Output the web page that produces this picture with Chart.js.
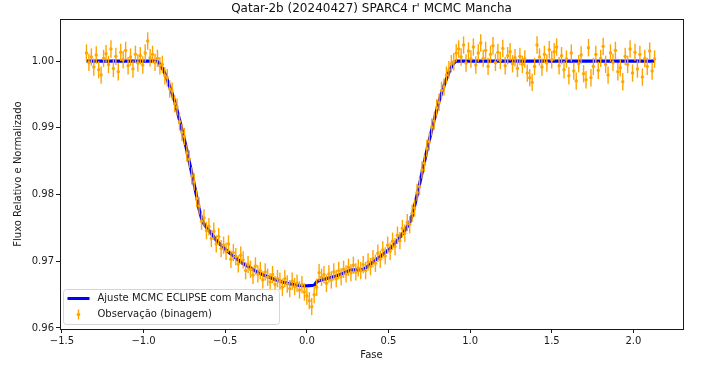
<!DOCTYPE html>
<html>
<head>
<meta charset="utf-8">
<script src="https://cdn.jsdelivr.net/npm/chart.js@4"></script>
<style>
  body { margin: 0; background: #fff; }
</style>
</head>
<body>
<canvas id="lc" width="702" height="369"></canvas>
<script>
// binned observations (phase, relative flux)
const phase = [
  -1.350,-1.335,-1.320,-1.305,-1.290,-1.275,-1.260,-1.245,-1.230,-1.215,-1.200,-1.185,-1.170,-1.155,-1.140,
  -1.125,-1.110,-1.095,-1.080,-1.065,-1.050,-1.035,-1.020,-1.005,-0.990,-0.975,-0.960,-0.945,-0.930,
  -0.915,-0.900,-0.885,-0.870,-0.855,-0.840,-0.825,-0.810,-0.795,-0.780,-0.765,-0.750,-0.735,-0.720,-0.705,
  -0.690,-0.675,-0.660,-0.645,-0.630,-0.615,-0.600,-0.585,-0.570,-0.555,-0.540,-0.525,-0.510,-0.495,-0.480,
  -0.465,-0.450,-0.435,-0.420,-0.405,-0.390,-0.375,-0.360,-0.345,-0.330,-0.315,-0.300,-0.285,-0.270,-0.255,
  -0.240,-0.225,-0.210,-0.195,-0.180,-0.165,-0.150,-0.135,-0.120,-0.105,-0.090,-0.075,-0.060,-0.045,-0.030,
  -0.015,0.000,0.015,0.030,0.045,0.060,0.075,0.090,0.105,0.120,0.135,0.150,0.165,0.180,0.195,
  0.210,0.225,0.240,0.255,0.270,0.285,0.300,0.315,0.330,0.345,0.360,0.375,0.390,0.405,0.420,
  0.435,0.450,0.465,0.480,0.495,0.510,0.525,0.540,0.555,0.570,0.585,0.600,0.615,0.630,0.645,
  0.660,0.675,0.690,0.705,0.720,0.735,0.750,0.765,0.780,0.795,0.810,0.825,0.840,0.855,0.870,
  0.885,0.900,0.915,
  0.930,0.945,0.960,0.975,0.990,1.005,1.020,1.035,1.050,1.065,1.080,1.095,1.110,1.125,1.140,
  1.155,1.170,1.185,1.200,1.215,1.230,1.245,1.260,1.275,1.290,1.305,1.320,1.335,1.350,1.365,
  1.380,1.395,1.410,1.425,1.440,1.455,1.470,1.485,1.500,1.515,1.530,1.545,1.560,1.575,1.590,
  1.605,1.620,1.635,1.650,1.665,1.680,1.695,1.710,1.725,1.740,1.755,1.770,1.785,1.800,1.815,
  1.830,1.845,1.860,1.875,1.890,1.905,1.920,1.935,1.950,1.965,1.980,1.995,2.010,2.025,2.040,
  2.055,2.070,2.085,2.100,2.115,2.130
];
const flux = [
  1.0012,0.9998,1.0006,0.9991,1.0009,0.9987,0.9979,1.0004,1.0011,0.9995,1.0018,0.9989,1.0007,0.9984,1.0013,
  1.0002,1.0016,0.9993,1.0006,0.9988,1.0010,0.9997,1.0008,0.9994,1.0012,1.0030,1.0005,1.0010,0.9998,
  1.0004,0.9993,0.9995,0.9978,0.9975,0.9958,0.9955,0.9936,0.9931,0.9909,0.9893,0.9887,0.9862,0.9853,0.9828,
  0.9819,0.9794,0.9783,0.9760,0.9765,0.9746,0.9752,0.9734,0.9745,0.9726,0.9737,0.9719,0.9724,0.9715,0.9726,
  0.9703,0.9713,0.9707,0.9696,0.9709,0.9702,0.9686,0.9695,0.9688,0.9679,0.9693,0.9681,0.9686,0.9672,0.9684,
  0.9676,0.9669,0.9680,0.9665,0.9674,0.9670,0.9661,0.9674,0.9666,0.9659,0.9670,0.9662,0.9667,0.9657,0.9665,
  0.9654,0.9648,0.9641,0.9632,0.9650,0.9661,0.9683,0.9676,0.9680,0.9667,0.9681,0.9672,0.9684,0.9674,0.9686,
  0.9677,0.9688,0.9681,0.9691,0.9683,0.9694,0.9684,0.9690,0.9686,0.9695,0.9686,0.9699,0.9692,0.9704,0.9697,
  0.9712,0.9703,0.9717,0.9708,0.9724,0.9715,0.9730,0.9722,0.9739,0.9731,0.9749,0.9742,0.9758,0.9755,0.9772,
  0.9780,0.9803,0.9812,0.9837,0.9847,0.9869,0.9879,0.9901,0.9910,0.9930,0.9938,0.9956,0.9961,0.9979,0.9987,
  0.9996,0.9999,1.0012,
  1.0018,1.0006,1.0024,0.9997,1.0015,1.0003,1.0021,0.9994,1.0012,1.0027,1.0004,1.0016,0.9992,1.0010,1.0023,
  0.9998,1.0013,1.0001,1.0019,0.9993,1.0008,1.0014,0.9996,1.0005,0.9989,1.0007,0.9995,1.0003,0.9982,0.9975,
  0.9968,0.9992,1.0024,1.0006,0.9991,1.0010,0.9997,1.0017,1.0002,1.0014,1.0021,0.9993,1.0008,0.9987,1.0003,
  0.9978,1.0012,0.9985,0.9970,0.9996,1.0009,0.9981,0.9972,1.0020,0.9975,0.9992,1.0010,0.9986,1.0004,1.0022,
  0.9995,0.9979,1.0012,0.9998,1.0016,0.9984,0.9990,0.9969,1.0007,0.9995,1.0018,0.9982,1.0013,0.9988,1.0010,
  0.9976,1.0004,0.9992,1.0015,0.9985,1.0003
];
const fluxErr = 0.0013;

// MCMC eclipse model with spot
const modelPhase = [
  -1.35,-0.93,-0.915,-0.90,-0.885,-0.87,-0.855,-0.84,-0.825,-0.81,-0.795,-0.78,-0.765,-0.75,-0.735,-0.72,
  -0.705,-0.69,-0.675,-0.66,-0.645,-0.63,-0.60,-0.55,-0.50,-0.45,-0.40,-0.35,-0.30,-0.25,-0.20,-0.15,-0.10,
  -0.05,0.0,0.045,0.06,0.075,0.09,0.12,0.15,0.18,0.21,0.24,0.27,0.285,0.33,0.345,0.36,0.39,0.42,0.45,0.48,
  0.51,0.54,0.57,0.60,0.63,0.645,0.66,0.675,0.69,0.705,0.72,0.735,0.75,0.765,0.78,0.795,0.81,0.825,0.84,
  0.855,0.87,0.885,0.90,0.915,2.13
];
const modelFlux = [
  1.0,1.0,0.9999,0.9996,0.9989,0.9982,0.9972,0.9962,0.9951,0.9940,0.9926,0.9912,0.9897,0.9882,0.9866,0.9849,
  0.9832,0.9815,0.9797,0.9778,0.9764,0.9756,0.9746,0.9730,0.9718,0.9708,0.9698,0.9691,0.9683,0.9678,0.9673,0.9669,0.9666,
  0.9664,0.9663,0.9664,0.9669,0.9671,0.9672,0.9674,0.9676,0.9678,0.9681,0.9684,0.9687,0.9687,0.9687,0.9688,0.9690,0.9696,0.9702,0.9707,0.9713,
  0.9719,0.9727,0.9736,0.9746,0.9758,0.9768,0.9783,0.9799,0.9815,0.9832,0.9849,0.9866,0.9882,0.9897,0.9912,0.9926,0.9940,0.9952,0.9963,
  0.9973,0.9983,0.9991,0.9997,1.0,1.0
];

const xTicks = [-1.5, -1.0, -0.5, 0.0, 0.5, 1.0, 1.5, 2.0];
const yTicks = [0.96, 0.97, 0.98, 0.99, 1.00];

const titleText = "Qatar-2b (20240427) SPARC4 r' MCMC Mancha";
const legendLabels = ['Ajuste MCMC ECLIPSE com Mancha', 'Observação (binagem)'];

const FONT = "'DejaVu Sans', sans-serif";
const ORANGE = '#ffa500';
const BLUE = '#0000ff';
const INK = '#1a1a1a';

function fmt(v, d) {
  return v.toFixed(d).replace('-', '\u2212');
}

const errorBars = {
  id: 'errorBars',
  afterDatasetsDraw(chart) {
    const ctx = chart.ctx;
    const xs = chart.scales.x, ys = chart.scales.y;
    ctx.save();
    ctx.strokeStyle = ORANGE;
    ctx.fillStyle = ORANGE;
    ctx.lineWidth = 1.4;
    for (let i = 0; i < phase.length; i++) {
      const px = xs.getPixelForValue(phase[i]);
      const top = ys.getPixelForValue(flux[i] + fluxErr);
      const bot = ys.getPixelForValue(flux[i] - fluxErr);
      ctx.beginPath();
      ctx.moveTo(px, top);
      ctx.lineTo(px, bot);
      ctx.stroke();
    }
    for (let i = 0; i < phase.length; i++) {
      const px = xs.getPixelForValue(phase[i]);
      const py = ys.getPixelForValue(flux[i]);
      ctx.beginPath();
      ctx.arc(px, py, 1.7, 0, Math.PI * 2);
      ctx.fill();
    }
    ctx.restore();
  }
};

const titleAndLegend = {
  id: 'titleAndLegend',
  afterDraw(chart) {
    const ctx = chart.ctx;
    const a = chart.chartArea;
    ctx.save();

    // title centred over the axes
    ctx.font = '12px ' + FONT;
    ctx.textAlign = 'center';
    ctx.textBaseline = 'middle';
    ctx.fillStyle = '#111';
    ctx.fillText(titleText, (a.left + a.right) / 2, 9);

    // legend box, lower left
    const bx = a.left + 3.5, by = a.bottom - 39.5, bw = 216, bh = 35;
    ctx.beginPath();
    ctx.roundRect(bx, by, bw, bh, 3);
    ctx.fillStyle = 'rgba(255,255,255,0.8)';
    ctx.fill();
    ctx.strokeStyle = '#d6d6d6';
    ctx.lineWidth = 1;
    ctx.stroke();

    const r1 = by + 9, r2 = by + 25;
    ctx.strokeStyle = BLUE;
    ctx.lineWidth = 3;
    ctx.beginPath();
    ctx.moveTo(bx + 4, r1);
    ctx.lineTo(bx + 26, r1);
    ctx.stroke();

    ctx.strokeStyle = ORANGE;
    ctx.fillStyle = ORANGE;
    ctx.lineWidth = 1.4;
    ctx.beginPath();
    ctx.moveTo(bx + 15, r2 - 5);
    ctx.lineTo(bx + 15, r2 + 5);
    ctx.stroke();
    ctx.beginPath();
    ctx.arc(bx + 15, r2, 1.8, 0, Math.PI * 2);
    ctx.fill();

    ctx.fillStyle = INK;
    ctx.font = '10px ' + FONT;
    ctx.textBaseline = 'middle';
    ctx.textAlign = 'left';
    ctx.fillText(legendLabels[0], bx + 34, r1);
    ctx.fillText(legendLabels[1], bx + 34, r2);
    ctx.restore();
  }
};

// bare axes used only for the top and right spines
const spine = (pos, axis) => ({
  type: 'linear',
  position: pos,
  axis: axis,
  display: true,
  afterFit(s) { if (axis === 'x') s.height = 0; else s.width = 0; },
  grid: { display: false, drawOnChartArea: false, drawTicks: false },
  border: { display: true, color: INK, width: 1 },
  ticks: { display: false }
});

new Chart(document.getElementById('lc'), {
  type: 'scatter',
  data: {
    datasets: [
      {
        label: legendLabels[0],
        data: modelPhase.map((p, i) => ({ x: p, y: modelFlux[i] })),
        showLine: true,
        borderColor: BLUE,
        borderWidth: 3.2,
        pointRadius: 0,
        tension: 0,
        order: 1
      },
      {
        label: legendLabels[1],
        data: phase.map((p, i) => ({ x: p, y: flux[i] })),
        pointRadius: 0,
        order: 0
      }
    ]
  },
  options: {
    responsive: false,
    devicePixelRatio: 1,
    animation: false,
    layout: { padding: { left: 0, right: 19, top: 19, bottom: 0 } },
    plugins: {
      legend: { display: false },
      tooltip: { enabled: false },
      title: { display: false }
    },
    scales: {
      x: {
        type: 'linear',
        min: -1.512,
        max: 2.304,
        afterFit(s) { s.height = 40; },
        afterBuildTicks(s) { s.ticks = xTicks.map(v => ({ value: v })); },
        grid: { drawOnChartArea: false, drawTicks: true, tickLength: 4, color: INK },
        border: { display: true, color: INK },
        ticks: {
          color: INK,
          padding: 2,
          maxRotation: 0,
          font: { family: FONT, size: 10 },
          callback: v => fmt(v, 1)
        },
        title: {
          display: true,
          text: 'Fase',
          color: INK,
          font: { family: FONT, size: 10 },
          padding: { top: 0, bottom: 8 }
        }
      },
      y: {
        type: 'linear',
        min: 0.95985,
        max: 1.0063,
        afterFit(s) { s.width = 60; },
        afterBuildTicks(s) { s.ticks = yTicks.map(v => ({ value: v })); },
        grid: { drawOnChartArea: false, drawTicks: true, tickLength: 4, color: INK },
        border: { display: true, color: INK },
        ticks: {
          color: INK,
          padding: 2,
          font: { family: FONT, size: 10 },
          callback: v => fmt(v, 2)
        },
        title: {
          display: true,
          text: 'Fluxo Relativo e Normalizado',
          color: INK,
          font: { family: FONT, size: 10 },
          padding: { top: 12, bottom: 0 }
        }
      },
      xTop: spine('top', 'x'),
      yRight: spine('right', 'y')
    }
  },
  plugins: [errorBars, titleAndLegend]
});
</script>
</body>
</html>
